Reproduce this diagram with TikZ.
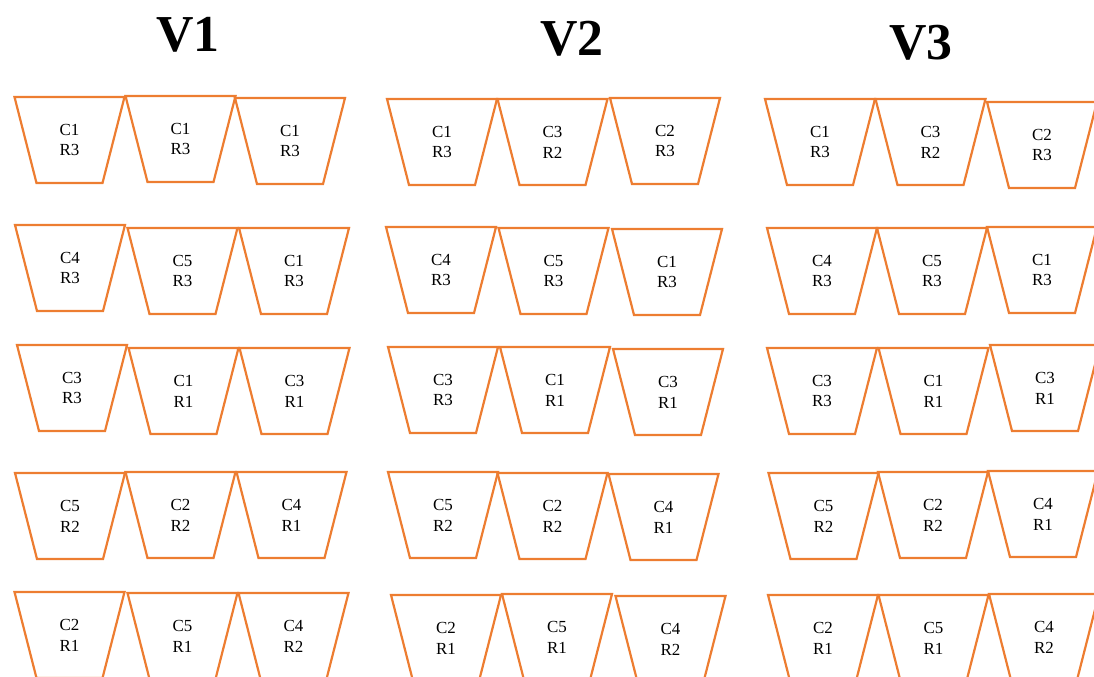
\documentclass[tikz,border=0pt]{standalone}
\usepackage{fontspec}
\setmainfont{Liberation Serif}
\definecolor{trapOrange}{RGB}{237,125,49}
\tikzset{
  traplabel/.style={inner sep=0pt, align=center, font=\fontsize{17}{21}\selectfont},
  trapline/.style={draw=trapOrange, line width=2.2bp, line join=miter},
  vtitle/.style={anchor=base, inner sep=0pt, font=\fontsize{52}{52}\selectfont\bfseries}
}
\begin{document}
\begin{tikzpicture}[x=1bp,y=-1bp]
\useasboundingbox (0,0) rectangle (1094,677);
\clip (0,0) rectangle (1094,677);
\node[vtitle] (t1) at (188,52) {V1};
\node[vtitle] (t2) at (572,56) {V2};
\node[vtitle] (t3) at (921,60) {V3};
\foreach \g/\r/\c/\x/\y/\a/\b in {
  a/1/1/69.5/140/C1/R3, a/1/2/180.5/139/C1/R3, a/1/3/290/141/C1/R3,
  a/2/1/70/268/C4/R3, a/2/2/182.5/271/C5/R3, a/2/3/294/271/C1/R3,
  a/3/1/72/388/C3/R3, a/3/2/183.5/391/C1/R1, a/3/3/294.5/391/C3/R1,
  a/4/1/70/516/C5/R2, a/4/2/180.5/515/C2/R2, a/4/3/291.5/515/C4/R1,
  a/5/1/69.5/635/C2/R1, a/5/2/182.5/636/C5/R1, a/5/3/293.5/636/C4/R2,
  b/1/1/442/142/C1/R3, b/1/2/552.5/142/C3/R2, b/1/3/665/141/C2/R3,
  b/2/1/441/270/C4/R3, b/2/2/553.5/271/C5/R3, b/2/3/667/272/C1/R3,
  b/3/1/443/390/C3/R3, b/3/2/555/390/C1/R1, b/3/3/668/392/C3/R1,
  b/4/1/443/515/C5/R2, b/4/2/552.5/516/C2/R2, b/4/3/663.5/517/C4/R1,
  b/5/1/446/638/C2/R1, b/5/2/557/637/C5/R1, b/5/3/670.5/639/C4/R2,
  c/1/1/820/142/C1/R3, c/1/2/930.5/142/C3/R2, c/1/3/1042/145/C2/R3,
  c/2/1/822/271/C4/R3, c/2/2/932/271/C5/R3, c/2/3/1042/270/C1/R3,
  c/3/1/822/391/C3/R3, c/3/2/933.5/391/C1/R1, c/3/3/1045/388/C3/R1,
  c/4/1/823.5/516/C5/R2, c/4/2/933/515/C2/R2, c/4/3/1043/514/C4/R1,
  c/5/1/823/638/C2/R1, c/5/2/933.5/638/C5/R1, c/5/3/1044/637/C4/R2}
{
  \draw[trapline] (\x-55,\y-43) -- ++(110,0) -- ++(-22,86) -- ++(-66,0) -- cycle;
  \node[traplabel] (\g-\r-\c) at (\x,\y) {\a\\\b};
}
\end{tikzpicture}
\end{document}
